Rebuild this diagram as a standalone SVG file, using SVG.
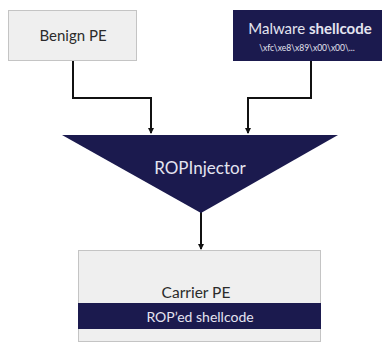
<svg xmlns="http://www.w3.org/2000/svg" width="383" height="343" viewBox="0 0 383 343">
<style>
.light{fill:#efefef;stroke:#c4c4c4;stroke-width:1}
.dark{fill:#1b1a4e}
.conn{fill:none;stroke:#111;stroke-width:2}
text{font-family:Lato,"Open Sans","Liberation Sans",sans-serif;text-anchor:middle}
.lt{fill:#2b2b2b}
.wt{fill:#e4e4f0}
</style>
<defs>
<marker id="ah" markerWidth="6" markerHeight="6" refX="5" refY="3" orient="auto" markerUnits="userSpaceOnUse">
<path d="M0,0 L6,3 L0,6 Z" fill="#111"/>
</marker>
</defs>
<rect width="383" height="343" fill="#fff"/>
<g id="connectors">
<path class="conn" d="M73,61 V98 H151 V133" marker-end="url(#ah)"/>
<path class="conn" d="M311,61 V98 H248 V133" marker-end="url(#ah)"/>
<path class="conn" d="M201,212 V249" marker-end="url(#ah)"/>
</g>
<g id="benign">
<rect class="light" x="8.5" y="10.5" width="128" height="50"/>
<text class="lt" x="73" y="41" font-size="15">Benign PE</text>
</g>
<g id="malware">
<rect class="dark" x="233" y="10" width="149" height="51"/>
<text class="wt" x="310" y="34" font-size="15">Malware <tspan font-weight="bold">shellcode</tspan></text>
<text class="wt" x="307" y="51" font-size="8.5">\xfc\xe8\x89\x00\x00\...</text>
</g>
<g id="ropinjector">
<polygon class="dark" points="62,135 338,135 201,213"/>
<text class="wt" x="200" y="174" font-size="17">ROPInjector</text>
</g>
<g id="carrier">
<rect class="light" x="78.5" y="250.5" width="242" height="91"/>
<text class="lt" x="196" y="298" font-size="15.5">Carrier PE</text>
<rect class="dark" x="78" y="303" width="243" height="26"/>
<text class="wt" x="200" y="322" font-size="14">ROP’ed shellcode</text>
</g>
</svg>
